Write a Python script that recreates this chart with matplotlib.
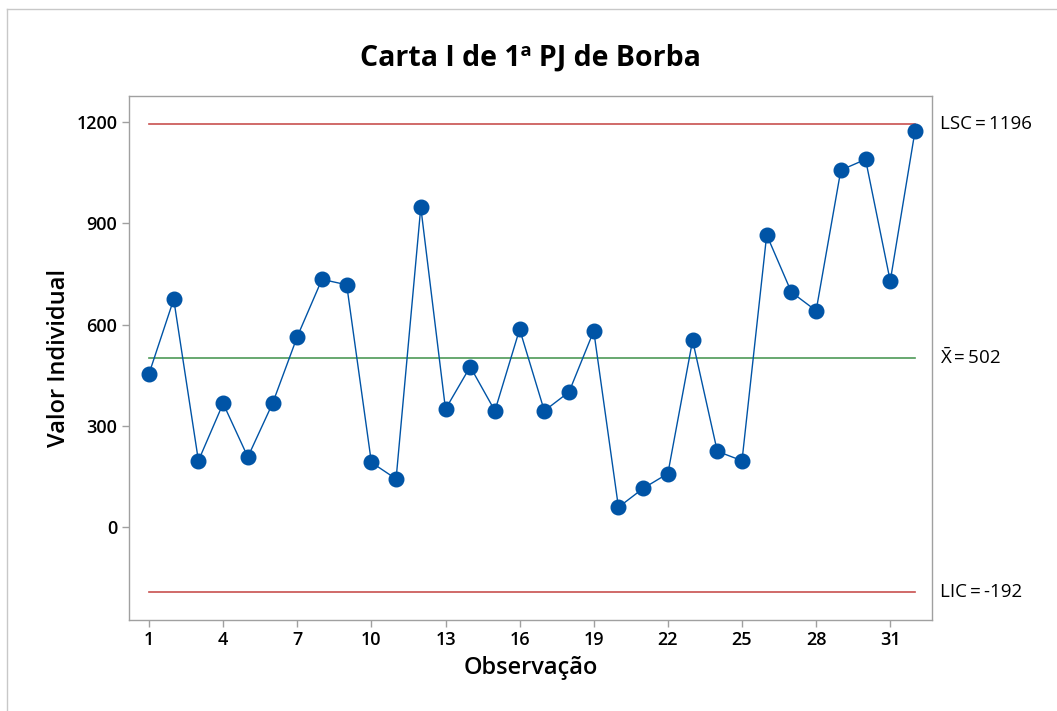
import matplotlib
matplotlib.use("Agg")
import matplotlib.pyplot as plt
from matplotlib.lines import Line2D

# dados da carta I
obs = list(range(1, 33))
valores = [454, 675, 196, 366, 207, 366, 564, 734, 718, 191, 142, 948,
           349, 475, 344, 586, 344, 400, 581, 58, 114, 158, 553, 224,
           196, 866, 696, 641, 1058, 1090, 729, 1173]
media = 502
lsc = 1196
lic = -192
xticks = list(range(1, 33, 3))
yticks = [0, 300, 600, 900, 1200]

plt.rcParams['font.family'] = ['Open Sans', 'DejaVu Sans']
plt.rcParams['mathtext.fontset'] = 'custom'
plt.rcParams['mathtext.rm'] = 'Open Sans'

W, H = 1057, 711
fig = plt.figure(figsize=(W / 100, H / 100), dpi=100)
ax = fig.add_axes([129 / W, 1 - 619.5 / H, (932 - 129) / W, (619.5 - 96) / H])

ax.plot(obs, valores, color='#0054A6', lw=1.0, marker='o', ms=10.5,
        markerfacecolor='#0054A6', markeredgecolor='#0054A6', zorder=3)
ax.plot([obs[0], obs[-1]], [lsc, lsc], color='#C8504F', lw=1.2, zorder=2)
ax.plot([obs[0], obs[-1]], [lic, lic], color='#C8504F', lw=1.2, zorder=2)
ax.plot([obs[0], obs[-1]], [media, media], color='#4E9A57', lw=1.2, zorder=2)

ax.set_xlim(0.19, 32.69)
ax.set_ylim(-275, 1278)
ax.set_xticks(xticks)
ax.set_yticks(yticks)
ax.tick_params(axis='both', colors='#a0a0a0', length=5, width=1,
               labelcolor='black', labelsize=13)
for lab in ax.get_xticklabels() + ax.get_yticklabels():
    lab.set_fontweight('semibold')
for s in ax.spines.values():
    s.set_color('#a0a0a0')
    s.set_linewidth(1)

ax.set_title('Carta I de 1ª PJ de Borba', fontsize=20.5, fontweight='bold', pad=22)
ax.set_xlabel('Observação', fontsize=17, fontweight='semibold', labelpad=5)
ax.set_ylabel('Valor Individual', fontsize=17, fontweight='semibold', labelpad=4)

tr = ax.get_yaxis_transform()
ax.text(1.01, lsc, 'LSC\u2009=\u20091196', transform=tr, fontsize=13.5, va='center', ha='left')
ax.text(1.01, media, r'$\bar{\mathrm{X}}$' + '\u2009=\u2009502', transform=tr,
        fontsize=13.5, va='center', ha='left')
ax.text(1.01, lic, 'LIC\u2009=\u2009-192', transform=tr, fontsize=13.5, va='center', ha='left')

# moldura exterior
fig.add_artist(Line2D([7 / W, 1], [1 - 9 / H, 1 - 9 / H], transform=fig.transFigure,
                      color='#c8c8c8', lw=1))
fig.add_artist(Line2D([7 / W, 7 / W], [0, 1 - 9 / H], transform=fig.transFigure,
                      color='#c8c8c8', lw=1))

fig.savefig('out.png', dpi=100)
